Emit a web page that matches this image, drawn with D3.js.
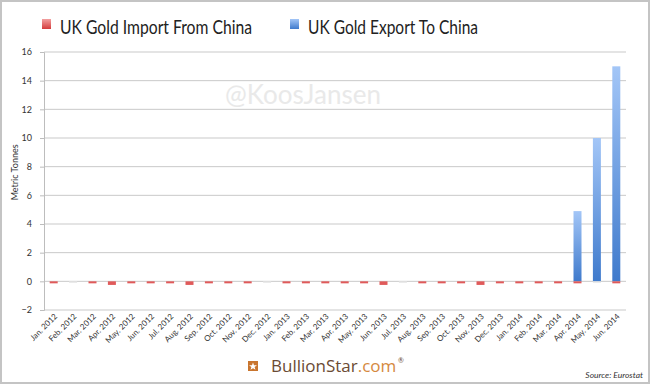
<!DOCTYPE html>
<html>
<head>
<meta charset="utf-8">
<script src="https://cdn.jsdelivr.net/npm/d3@7"></script>
<style>
  body { margin: 0; background: #fff; }
  svg { display: block; font-family: Lato, "Open Sans", sans-serif; }
</style>
</head>
<body>
<div id="chart"></div>
<script>
const months = ["Jan. 2012", "Feb. 2012", "Mar. 2012", "Apr. 2012", "May. 2012", "Jun. 2012",
    "Jul. 2012", "Aug. 2012", "Sep. 2012", "Oct. 2012", "Nov. 2012", "Dec. 2012",
    "Jan. 2013", "Feb. 2013", "Mar. 2013", "Apr. 2013", "May. 2013", "Jun. 2013",
    "Jul. 2013", "Aug. 2013", "Sep. 2013", "Oct. 2013", "Nov. 2013", "Dec. 2013",
    "Jan. 2014", "Feb. 2014", "Mar. 2014", "Apr. 2014", "May. 2014", "Jun. 2014"];

// imports shown as negative values
const importFromChina = [-0.1, 0, -0.1, -0.25, -0.1, -0.1, -0.1, -0.25, -0.1, -0.1, -0.1, 0,
    -0.1, -0.1, -0.1, -0.1, -0.1, -0.25, 0, -0.1, -0.1, -0.1, -0.25, -0.1,
    -0.1, -0.1, -0.1, -0.1, 0, -0.1];
const exportToChina = [0, 0, 0, 0, 0, 0, 0, 0, 0, 0, 0, 0,
    0, 0, 0, 0, 0, 0, 0, 0, 0, 0, 0, 0,
    0, 0, 0, 4.9, 10.0, 15.0];
const yTicks = [-2, 0, 2, 4, 6, 8, 10, 12, 14, 16];

const W = 651, H = 385;
const margin = { top: 52, right: 25, bottom: 75, left: 44 };
const width = W - margin.left - margin.right;
const height = H - margin.top - margin.bottom;

const root = d3.select("#chart").append("svg")
    .attr("width", W)
    .attr("height", H);

// gradients
const defs = root.append("defs");
const blueGrad = defs.append("linearGradient").attr("id", "blueGrad")
    .attr("x1", 0).attr("y1", 0).attr("x2", 0).attr("y2", 1);
blueGrad.append("stop").attr("offset", "0%").attr("stop-color", "#a3c6f7");
blueGrad.append("stop").attr("offset", "100%").attr("stop-color", "#3f7acc");
const redGrad = defs.append("linearGradient").attr("id", "redGrad")
    .attr("x1", 0).attr("y1", 0).attr("x2", 0).attr("y2", 1);
redGrad.append("stop").attr("offset", "0%").attr("stop-color", "#f2a0a0");
redGrad.append("stop").attr("offset", "100%").attr("stop-color", "#d43c3c");

// frame
root.append("rect")
    .attr("x", 1).attr("y", 1)
    .attr("width", W - 3).attr("height", H - 3)
    .attr("fill", "none")
    .attr("stroke", "#c4c4c4")
    .attr("stroke-width", 2);

const svg = root.append("g")
    .attr("transform", `translate(${margin.left},${margin.top})`);

const x = d3.scaleBand().domain(months).range([0, width]);
const y = d3.scaleLinear().domain([-2, 16]).range([height, 0]);

// gridlines
svg.append("g")
    .selectAll("line")
    .data(yTicks)
    .join("line")
    .attr("x1", 0).attr("x2", width)
    .attr("y1", d => y(d)).attr("y2", d => y(d))
    .attr("stroke", "#c9c9c9")
    .attr("stroke-width", 1);

// watermark
svg.append("text")
    .attr("x", 181)
    .attr("y", 52)
    .attr("fill", "#e9e9e9")
    .style("font-size", "26px")
    .text("@KoosJansen");

// y axis
const yAxis = svg.append("g")
    .call(d3.axisLeft(y).tickValues(yTicks).tickSize(4).tickPadding(8));
yAxis.select(".domain").attr("stroke", "#bdbdbd");
yAxis.selectAll(".tick line").attr("stroke", "#bdbdbd");
yAxis.selectAll("text").style("font-size", "9px").attr("fill", "#333")
    .style("font-family", "Lato, sans-serif");

// x labels
svg.append("g")
    .selectAll("text")
    .data(months)
    .join("text")
    .attr("transform", d => `translate(${x(d) + x.bandwidth() / 2 + 4},${height + 7}) rotate(-45)`)
    .attr("text-anchor", "end")
    .attr("fill", "#333")
    .style("font-size", "8px")
    .text(d => d);

const barW = 8;

// export bars
svg.append("g")
    .selectAll("rect")
    .data(months.map((m, i) => ({ m, v: exportToChina[i] })).filter(d => d.v > 0))
    .join("rect")
    .attr("x", d => x(d.m) + (x.bandwidth() - barW) / 2)
    .attr("y", d => y(d.v))
    .attr("width", barW)
    .attr("height", d => y(0) - y(d.v))
    .attr("fill", "url(#blueGrad)");

// import bars
svg.append("g")
    .selectAll("rect")
    .data(months.map((m, i) => ({ m, v: importFromChina[i] })))
    .join("rect")
    .attr("x", d => x(d.m) + (x.bandwidth() - barW) / 2)
    .attr("y", y(0))
    .attr("width", barW)
    .attr("height", d => d.v < 0 ? Math.max(2, y(d.v) - y(0)) : 1.5)
    .attr("fill", d => d.v < 0 ? "#e05a5a" : "#e6e6e6");

// y label
svg.append("text")
    .attr("transform", `translate(${-26},${y(7.6)}) rotate(-90)`)
    .attr("text-anchor", "middle")
    .attr("fill", "#333")
    .style("font-size", "9px")
    .text("Metric Tonnes");

// legend
const legend = [
    { label: "UK Gold Import From China", fill: "url(#redGrad)", x: 42, w: 192 },
    { label: "UK Gold Export To China", fill: "url(#blueGrad)", x: 290, w: 170 }
];
const lg = root.append("g").selectAll("g").data(legend).join("g")
    .attr("transform", d => `translate(${d.x},0)`);
lg.append("rect")
    .attr("x", 0).attr("y", 19)
    .attr("width", 9).attr("height", 10)
    .attr("fill", d => d.fill);
lg.append("text")
    .attr("x", 18).attr("y", 34)
    .attr("fill", "#222")
    .attr("textLength", d => d.w)
    .attr("lengthAdjust", "spacingAndGlyphs")
    .style("font-size", "19px")
    .text(d => d.label);

// logo
const logo = root.append("g").attr("transform", "translate(248,361)");
logo.append("rect").attr("width", 10).attr("height", 10).attr("fill", "#c9752e");
logo.append("path")
    .attr("d", "M5,1.5 L6,4.2 L9,4.3 L6.6,6 L7.5,8.8 L5,7.2 L2.5,8.8 L3.4,6 L1,4.3 L4,4.2 Z")
    .attr("fill", "#fff");
const logoText = root.append("text")
    .attr("x", 271).attr("y", 372)
    .style("font-size", "17px")
    .style("font-family", "'Open Sans', sans-serif");
logoText.append("tspan").attr("fill", "#6b4b34").text("BullionStar");
logoText.append("tspan").attr("fill", "#d5893e").text(".com");
root.append("text")
    .attr("x", 398).attr("y", 363)
    .attr("fill", "#6b4b34")
    .style("font-size", "7px")
    .text("®");

// source
root.append("text")
    .attr("x", 643).attr("y", 378)
    .attr("text-anchor", "end")
    .attr("fill", "#333")
    .style("font-size", "8.5px")
    .style("font-style", "italic")
    .text("Source: Eurostat");
</script>
</body>
</html>
